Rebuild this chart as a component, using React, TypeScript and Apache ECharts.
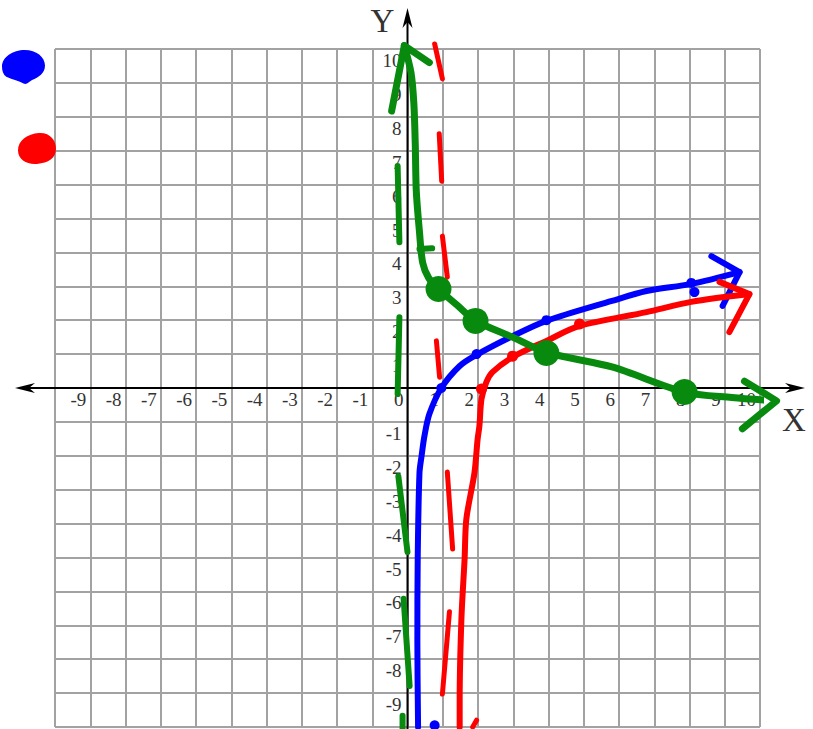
import { useEffect, useRef } from "react";
import * as echarts from "echarts";

// Axis range and tick step
const AXIS_MIN = -10;
const AXIS_MAX = 10;
const STEP = 1;

type Pt = [number, number];

// y = log2(x) (blue)
const blueCurve: Pt[] = [
  [0.3, -10], [0.28, -7.5], [0.29, -5], [0.34, -2.5], [0.4, -2], [0.48, -1.42],
  [0.62, -0.77], [0.96, 0], [1.48, 0.65], [1.96, 0.98], [2.98, 1.53], [3.94, 1.98],
  [5.8, 2.57], [6.78, 2.86], [8.05, 3.07], [9.42, 3.42],
];
const blueArrow: Pt[] = [[8.62, 3.89], [9.42, 3.42], [8.94, 2.42]];
const blueMarks: Pt[] = [[0.96, 0], [1.96, 1.0], [3.94, 2.0], [8.05, 3.1], [8.14, 2.83], [0.77, -9.95]];

// y = log2(x - 1) (red)
const redCurve: Pt[] = [
  [1.48, -10], [1.48, -9.2], [1.53, -6.8], [1.62, -5.04], [1.67, -3.86], [1.9, -2.5],
  [1.99, -1.5], [2.04, -1.12], [2.1, -0.32], [2.24, 0.18], [2.41, 0.47], [2.98, 0.91],
  [3.94, 1.39], [4.88, 1.83], [6.78, 2.24], [8.05, 2.54], [9.7, 2.77],
];
const redArrow: Pt[] = [[8.85, 3.13], [9.7, 2.77], [9.13, 1.65]];
const redMarks: Pt[] = [[2.1, -0.03], [2.98, 0.94], [4.88, 1.89]];
// dashed asymptote x = 1, drawn as separate strokes
const redAsymptote: Pt[][] = [
  [[0.77, 10.15], [0.99, 9.12]],
  [[0.9, 7.5], [0.97, 6.1]],
  [[0.99, 4.48], [1.13, 3.27]],
  [[0.82, 1.39], [0.91, 0.32]],
  [[1.13, -2.48], [1.28, -4.75]],
  [[1.19, -6.6], [0.99, -9.03]],
  [[1.85, -10.0], [1.96, -9.8]],
];

// y = 3 - log2(x) (green)
const greenCurve: Pt[] = [
  [-0.09, 10.1], [0.1, 9.3], [0.18, 8.4], [0.22, 7.2], [0.25, 5.8], [0.34, 4.6],
  [0.43, 3.7], [0.6, 3.25], [0.88, 2.92], [1.4, 2.45], [1.93, 1.98], [2.98, 1.5],
  [3.94, 1.05], [5.8, 0.62], [7.86, -0.12], [9.2, -0.28], [10.47, -0.38],
];
const greenArrowUp: Pt[] = [[-0.45, 8.17], [-0.09, 10.1], [0.62, 9.6]];
const greenArrowRight: Pt[] = [[9.56, 0.2], [10.47, -0.38], [9.5, -1.2]];
const greenDots: Pt[] = [[0.88, 2.92], [1.93, 1.98], [3.94, 1.03], [7.86, -0.12]];
const greenTicks: Pt[][] = [[[0.34, 4.1], [0.7, 4.12]]];
// dashed asymptote x = 0
const greenAsymptote: Pt[][] = [
  [[-0.28, 6.55], [-0.23, 4.3]],
  [[-0.23, 2.09], [-0.28, -0.18]],
  [[-0.26, -2.6], [0, -4.84]],
  [[-0.11, -6.22], [0.06, -8.79]],
  [[-0.14, -9.67], [-0.14, -10.2]],
];

const BLUE = "#0000ff";
const RED = "#ff0000";
const GREEN = "#078a0e";
const GRID_COLOR = "#a2a2a2";
const TEXT_COLOR = "#333";
const SERIF = "'Liberation Serif', 'Times New Roman', serif";

const BLUE_NAME = "y = log₂x";
const RED_NAME = "y = log₂(x − 1)";
const GREEN_NAME = "y = 3 − log₂x";

const WIDTH = 813;
const HEIGHT = 729;
const GRID = { left: 55, right: 53, top: 49, bottom: 2 };
const GRID_W = WIDTH - GRID.left - GRID.right;
const GRID_H = HEIGHT - GRID.top - GRID.bottom;

const BLUE_BLOB =
  "path://M0,47 C0,20 25,0 53,0 C80,0 100,20 100,44 C100,66 85,78 70,85 C62,90 58,100 50,95 C40,88 25,84 10,76 C3,70 0,60 0,47 Z";
const RED_BLOB =
  "path://M0,55 C0,25 25,5 55,2 C85,0 100,25 100,50 C100,80 80,95 50,97 C25,100 0,85 0,55 Z";

function curve(name: string, data: Pt[], color: string, width: number, z: number) {
  return {
    name,
    type: "line",
    data,
    smooth: 0.3,
    showSymbol: false,
    clip: false,
    color,
    z,
    lineStyle: { color, width, cap: "round", join: "round" },
  };
}

function strokes(name: string, paths: Pt[][], color: string, width: number, z: number) {
  return {
    name,
    type: "lines",
    coordinateSystem: "cartesian2d",
    polyline: true,
    clip: false,
    z,
    data: paths.map((coords) => ({ coords })),
    lineStyle: { color, width, opacity: 1, cap: "round", join: "round" },
  };
}

function marks(name: string, data: Pt[], color: string, size: number, z: number) {
  return {
    name,
    type: "scatter",
    data,
    symbol: "circle",
    symbolSize: size,
    clip: false,
    z,
    itemStyle: { color, opacity: 1 },
  };
}

export default function App() {
  const ref = useRef<HTMLDivElement>(null);

  useEffect(() => {
    if (!ref.current) return;
    const chart = echarts.init(ref.current, undefined, { renderer: "svg" });

    const axisLabel = {
      fontFamily: SERIF,
      fontSize: 19,
      color: TEXT_COLOR,
    };

    chart.setOption({
      animation: false,
      legend: [
        {
          left: 2,
          top: 50,
          padding: 0,
          itemWidth: 43,
          itemHeight: 34,
          selectedMode: false,
          symbolKeepAspect: false,
          formatter: () => "",
          data: [{ name: BLUE_NAME, icon: BLUE_BLOB, itemStyle: { color: BLUE, borderWidth: 0 } }],
        },
        {
          left: 18,
          top: 133,
          padding: 0,
          itemWidth: 38,
          itemHeight: 31,
          selectedMode: false,
          symbolKeepAspect: false,
          formatter: () => "",
          data: [{ name: RED_NAME, icon: RED_BLOB, itemStyle: { color: RED, borderWidth: 0 } }],
        },
      ],
      grid: { ...GRID, containLabel: false, outerBoundsMode: "none" },
      // Both axes cross at the origin: pull them inward from the grid edges
      xAxis: {
        type: "value",
        min: AXIS_MIN,
        max: AXIS_MAX,
        interval: STEP,
        position: "bottom",
        offset: -GRID_H / 2,
        axisLine: { show: false, onZero: false },
        axisTick: { show: false },
        splitLine: { show: true, lineStyle: { color: GRID_COLOR, width: 2 } },
        axisLabel: {
          ...axisLabel,
          margin: 2,
          align: "right",
          padding: [0, 4, 0, 0],
          formatter: (v: number) => (v === AXIS_MIN ? "" : String(v)),
        },
      },
      yAxis: {
        type: "value",
        min: AXIS_MIN,
        max: AXIS_MAX,
        interval: STEP,
        position: "left",
        offset: -GRID_W / 2,
        axisLine: { show: false, onZero: false },
        axisTick: { show: false },
        splitLine: { show: true, lineStyle: { color: GRID_COLOR, width: 2 } },
        axisLabel: {
          ...axisLabel,
          margin: 6,
          verticalAlign: "top",
          padding: [2, 0, 0, 0],
          formatter: (v: number) => (v === AXIS_MIN || v === 0 ? "" : String(v)),
        },
      },
      series: [
        strokes("red asymptote", redAsymptote, RED, 5, 3),
        strokes("green asymptote", greenAsymptote, GREEN, 6, 3),
        curve(BLUE_NAME, blueCurve, BLUE, 6, 4),
        strokes("blue arrow", [blueArrow], BLUE, 6, 4),
        marks("blue marks", blueMarks, BLUE, 10, 4),
        curve(RED_NAME, redCurve, RED, 6, 5),
        strokes("red arrow", [redArrow], RED, 6, 5),
        marks("red marks", redMarks, RED, 11, 5),
        curve(GREEN_NAME, greenCurve, GREEN, 7, 6),
        strokes("green arrows", [greenArrowUp, greenArrowRight], GREEN, 7, 6),
        strokes("green ticks", greenTicks, GREEN, 6, 6),
        marks("green points", greenDots, GREEN, 26, 6),
      ],
    });

    // Axis lines that run past the grid, with arrowheads and axis letters
    const [ox, oy] = chart.convertToPixel({ gridIndex: 0 }, [0, 0]) as number[];
    const w = chart.getWidth();
    const h = chart.getHeight();
    const leftTip = GRID.left - 40;
    const rightTip = w - GRID.right + 45;
    const topTip = GRID.top - 41;
    const head = 20;
    const half = 5;
    const ink = { fill: "#000" };
    chart.setOption({
      graphic: [
        {
          type: "line",
          z: 1,
          shape: { x1: leftTip + 8, y1: oy, x2: rightTip - 8, y2: oy },
          style: { stroke: "#000", lineWidth: 2 },
        },
        {
          type: "line",
          z: 1,
          shape: { x1: ox, y1: topTip + 8, x2: ox, y2: h + 10 },
          style: { stroke: "#000", lineWidth: 2 },
        },
        {
          type: "polygon",
          z: 1,
          shape: {
            points: [[rightTip, oy], [rightTip - head, oy - half], [rightTip - head + 6, oy], [rightTip - head, oy + half]],
          },
          style: ink,
        },
        {
          type: "polygon",
          z: 1,
          shape: {
            points: [[leftTip, oy], [leftTip + head, oy - half], [leftTip + head - 6, oy], [leftTip + head, oy + half]],
          },
          style: ink,
        },
        {
          type: "polygon",
          z: 1,
          shape: {
            points: [[ox, topTip], [ox - half, topTip + head], [ox, topTip + head - 6], [ox + half, topTip + head]],
          },
          style: ink,
        },
        {
          type: "text",
          z: 1,
          x: ox - 25,
          y: GRID.top - 28,
          style: {
            text: "Y",
            fill: TEXT_COLOR,
            font: `33px ${SERIF}`,
            align: "center",
            verticalAlign: "middle",
          },
        },
        {
          type: "text",
          z: 1,
          x: w - GRID.right + 34,
          y: oy + 32,
          style: {
            text: "X",
            fill: TEXT_COLOR,
            font: `33px ${SERIF}`,
            align: "center",
            verticalAlign: "middle",
          },
        },
      ],
    });

    return () => chart.dispose();
  }, []);

  return (
    <div
      ref={ref}
      style={{ position: "fixed", left: 0, top: 0, width: WIDTH, height: HEIGHT, background: "#fff" }}
    />
  );
}
